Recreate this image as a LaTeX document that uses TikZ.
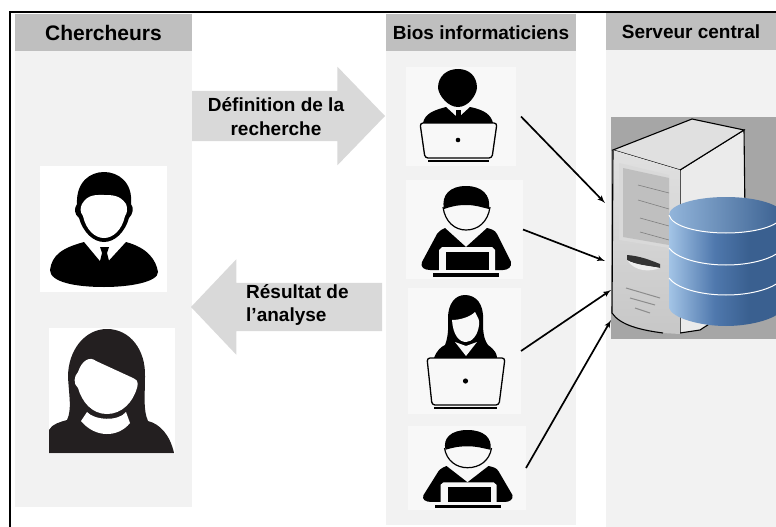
\documentclass[tikz,border=0pt]{standalone}
\usepackage{fontspec}
\setmainfont{Liberation Sans}
\usetikzlibrary{shapes,arrows}
\definecolor{headgray}{HTML}{BFBFBF}
\definecolor{colgray}{HTML}{F2F2F2}
\definecolor{boxgray}{HTML}{F8F8F8}
\definecolor{arrowgray}{HTML}{D9D9D9}
\definecolor{servergray}{HTML}{A6A6A6}
\definecolor{inkblack}{HTML}{231F20}
\definecolor{dblight}{HTML}{A3C4E6}
\definecolor{dbmid}{HTML}{4F78AD}
\definecolor{dbdark}{HTML}{3A6090}
\pgfdeclarehorizontalshading{dbshade}{100bp}{color(0bp)=(dblight); color(25bp)=(dblight); color(45bp)=(dbmid); color(60bp)=(dbdark); color(100bp)=(dbdark)}
\tikzset{%
  colbox/.style   = {rectangle, fill=colgray, anchor=north west, inner sep=0pt, outer sep=0pt},
  headbox/.style  = {rectangle, fill=headgray, anchor=north west, inner sep=0pt, outer sep=0pt,
    font=\bfseries\fontsize{19}{23}\selectfont},
  iconbox/.style  = {rectangle, fill=boxgray, anchor=north west, inner sep=0pt, outer sep=0pt},
  bigarrow/.style = {single arrow, fill=arrowgray, anchor=tip, inner xsep=0pt, outer sep=0pt},
  arrowtext/.style = {align=center, inner sep=0pt, font=\bfseries\fontsize{19}{23.5}\selectfont},
  frameline/.style = {draw, line width=2.5pt},
  laptop/.style   = {draw, line width=1.3pt, fill=boxgray, rounded corners=3pt}
}
\tikzstyle{arrow} = [draw, line width=1.7pt, -latex']
% male icon with the dark screen, drawn at the place of the second one
\newcommand{\devmale}{%
  \fill (422,262) -- (437,234) .. controls (440,230) and (443,229) .. (445,228) -- (466,247) -- (487,228)
    .. controls (491,229) and (495,230) .. (497,234) -- (511,262)
    .. controls (512,267) and (508,270) .. (503,270) -- (430,270)
    .. controls (424,270) and (420,267) .. (422,262) -- cycle;
  \fill[boxgray] (439,272) -- (439,250) -- (442,247) -- (492,247) -- (495,250) -- (495,272) -- cycle;
  \fill (446,252) rectangle (489,270);
  \fill (433,273) rectangle (499,277);
  \draw[line width=1.2pt, fill=boxgray] (443,207) .. controls (445,222) and (455,230) .. (466,230)
    .. controls (478,230) and (488,222) .. (490,207);
  \fill (444,209) .. controls (441,195) and (450,186) .. (466,186) .. controls (482,186) and (491,195) .. (489,209)
    .. controls (480,207) and (476,205) .. (466,205) .. controls (456,205) and (450,207) .. (444,209) -- cycle;
}
\begin{document}
\begin{tikzpicture}[x=1pt,y=-1pt]
\useasboundingbox (0,0) rectangle (776,527);

\draw [frameline] (776,12) -- (10,12) -- (10,527);

  \node [colbox, minimum width=177, minimum height=493] (col_1) at (15,14) {};
  \node [colbox, minimum width=190, minimum height=511] (col_2) at (386,14) {};
  \node [colbox, minimum width=170, minimum height=514] (col_3) at (606,13) {};

  \node [headbox, minimum width=177, minimum height=37, font=\bfseries\fontsize{21}{25}\selectfont] (head_1) at (15,14) {Chercheurs};
  \node [headbox, minimum width=190, minimum height=37] (head_2) at (386,14) {Bios informaticiens};
  \node [headbox, minimum width=170, minimum height=37] (head_3) at (606,13) {Serveur central};

  \node [bigarrow, inner ysep=25pt, minimum height=193, single arrow head extend=24pt,
    single arrow tip angle=92] (def_arrow) at (385,116) {};
  \node [bigarrow, shape border rotate=180, inner ysep=24pt, minimum height=191, single arrow head extend=23.5pt,
    single arrow tip angle=93] (res_arrow) at (191,307) {};
  \node [arrowtext] (def_text) at (276,116.5) {Définition de la\\recherche};
  \node [arrowtext, align=left, anchor=west] (res_text) at (246,305) {Résultat de\\l’analyse};

  \node [iconbox, fill=white, minimum width=127, minimum height=126] (man) at (40,166) {};
  \node [iconbox, fill=white, minimum width=126, minimum height=126] (woman) at (49,328) {};
  \node [iconbox, minimum width=110, minimum height=99] (dev_1) at (406,67) {};
  \node [iconbox, minimum width=117, minimum height=99] (dev_2) at (406,180) {};
  \node [iconbox, minimum width=113, minimum height=126] (dev_3) at (408,288) {};
  \node [iconbox, minimum width=118, minimum height=84] (dev_4) at (408,426) {};
  \node [iconbox, fill=servergray, minimum width=165, minimum height=222] (server) at (611,117) {};

  % man
  \fill (50,270) .. controls (52,255) and (62,248) .. (84,242) -- (104,266) -- (126,242)
    .. controls (148,248) and (156,260) .. (158,272) .. controls (158,282) and (130,287) .. (104,287)
    .. controls (75,287) and (50,282) .. (50,270) -- cycle;
  \fill (100,247) -- (109,247) -- (107,253) -- (110,265) -- (104,271) -- (99,265) -- (102,253) -- cycle;
  \fill (77,204) .. controls (76,182) and (90,172) .. (104,172) .. controls (118,172) and (133,182) .. (131,204)
    .. controls (134,208) and (133,214) .. (129,218) .. controls (125,232) and (115,242) .. (104,242)
    .. controls (93,242) and (83,232) .. (79,218) .. controls (74,214) and (74,208) .. (77,204) -- cycle;
  \fill [white] (82,204) .. controls (88,194) and (96,195) .. (104,195) .. controls (112,195) and (120,195) .. (126,204)
    .. controls (128,208) and (127,214) .. (125,216) .. controls (122,230) and (113,238) .. (104,238)
    .. controls (95,238) and (86,230) .. (83,216) .. controls (80,212) and (80,208) .. (82,204) -- cycle;

  % woman
  \fill [inkblack] (49,453) -- (49,430) .. controls (52,424) and (60,422) .. (67,420)
    .. controls (72,410) and (69,395) .. (68,377) .. controls (68,350) and (85,329) .. (107,329)
    .. controls (130,329) and (146,350) .. (145,377) .. controls (145,395) and (143,410) .. (148,421)
    .. controls (160,424) and (170,435) .. (174,453) -- cycle;
  \fill [white] (78,372) .. controls (82,360) and (90,356) .. (96,361) -- (133,378)
    .. controls (136,380) and (139,380) .. (137,388) .. controls (133,402) and (122,414) .. (107,414)
    .. controls (92,414) and (82,402) .. (78,388) .. controls (73,384) and (74,376) .. (78,372) -- cycle;
  \fill [white] (87,412) .. controls (94,420) and (118,422) .. (126,412) -- (130,423)
    .. controls (118,438) and (95,438) .. (81,421) -- cycle;

  % developer with the open laptop
  \fill (438,88) .. controls (438,76) and (447,69) .. (458,69) .. controls (469,69) and (477,76) .. (477,88)
    .. controls (476,96) and (468,107) .. (458,107) .. controls (448,107) and (439,96) .. (438,88) -- cycle;
  \fill (423,123) .. controls (425,113) and (435,110) .. (446,107) -- (458,118) -- (470,107)
    .. controls (485,110) and (491,115) .. (493,123) -- cycle;
  \fill (456,110) rectangle (461,119);
  \draw [laptop] (420,123) -- (497,123) -- (492,158) -- (425,158) -- cycle;
  \fill (458,140) circle (2.3);
  \fill (428,160) rectangle (489,162);

  \devmale

  % developer with long hair
  \fill (445,345) .. controls (449,335) and (448,325) .. (448,318) .. controls (448,304) and (455,295) .. (465,295)
    .. controls (476,295) and (484,304) .. (483,320) .. controls (483,330) and (483,338) .. (488,345)
    .. controls (495,350) and (497,354) .. (497,358) -- (434,358) .. controls (437,350) and (441,347) .. (445,345) -- cycle;
  \fill [boxgray] (452,320) .. controls (460,320) and (470,317) .. (475,312) .. controls (478,318) and (480,320) .. (479,325)
    .. controls (478,335) and (472,342) .. (466,342) .. controls (459,342) and (453,335) .. (452,320) -- cycle;
  \fill [boxgray] (455,342) -- (466,356) -- (477,342) -- (466,346) -- cycle;
  \draw [laptop] (427,358) -- (505,358) -- (499,405) -- (432,405) -- cycle;
  \fill (465.5,381) circle (2.6);
  \fill (434,407) rectangle (497,409);

  \begin{scope}[shift={(1.5,270.6)}, yscale=0.857]
    \devmale
  \end{scope}

  % server
  \begin{scope}
  \clip (611,117) rectangle (776,339);
  \draw [line width=1.1pt, fill=white!92!black] (680,170) -- (744,130) -- (746,300) -- (700,330) -- (680,333) -- cycle;
  \draw [line width=1.1pt, fill=white!88!black] (613,150) -- (692,119) -- (744,130) -- (680,170) -- cycle;
  \path [top color=white!88!black, bottom color=white!78!black] (613,150) -- (680,170) -- (680,334) -- (663,333)
    .. controls (640,330) and (620,325) .. (612,313) -- cycle;
  \draw [line width=1.1pt] (613,150) -- (612,313) .. controls (620,325) and (640,330) .. (663,333);
  \fill [white!85!black] (619,163) -- (669,175) -- (669,248) -- (619,240) -- cycle;
  \fill [white!75!black] (623,168) -- (669,178) -- (669,245) -- (623,237) -- cycle;
  \draw [white!50!black, line width=0.6pt] (638,185) -- (669,193) (638,200) -- (669,209) (640,218) -- (669,226) (640,232) -- (669,240);
  \fill [white!20!black] (627,255) .. controls (640,256) and (650,260) .. (660,264) -- (660,268) .. controls (650,266) and (635,265) .. (627,260) -- cycle;
  \fill [white!93!black] (627,260) .. controls (635,265) and (650,266) .. (660,268) .. controls (650,272) and (635,272) .. (627,260) -- cycle;
  \draw [white!55!black, line width=1pt] (626,288) -- (660,298) (630,298) -- (655,305) (635,308) -- (650,313);
  % database
  \path [shading=dbshade]
    (669,215) -- (669,308) .. controls (672,318) and (700,326) .. (726,326) .. controls (752,326) and (780,318) .. (783,308) -- (783,215) -- cycle;
  \draw [white, line width=1pt] (669,248) .. controls (676,258) and (700,265) .. (726,265) .. controls (752,265) and (776,258) .. (783,248)
    (669,278) .. controls (676,288) and (700,295) .. (726,295) .. controls (752,295) and (776,288) .. (783,278);
  \path [left color=dblight!80!dbmid, right color=dbdark]
    (726,215) ellipse [x radius=57, y radius=18];
  \draw [white, line width=1pt] (669,215) .. controls (672,227) and (700,233) .. (726,233) .. controls (752,233) and (780,227) .. (783,215);
  \end{scope}

  \coordinate (in_1) at (605,203);
  \coordinate (in_2) at (605,261);
  \coordinate (in_3) at (611,290);
  \coordinate (in_4) at (611,320);

  \draw [arrow] ([xshift=5pt]dev_1.east) -- (in_1);
  \draw [arrow] (dev_2.east) -- (in_2);
  \draw [arrow] (dev_3.east) -- (in_3);
  \draw [arrow] (dev_4.east) -- (in_4);

\end{tikzpicture}
\end{document}
